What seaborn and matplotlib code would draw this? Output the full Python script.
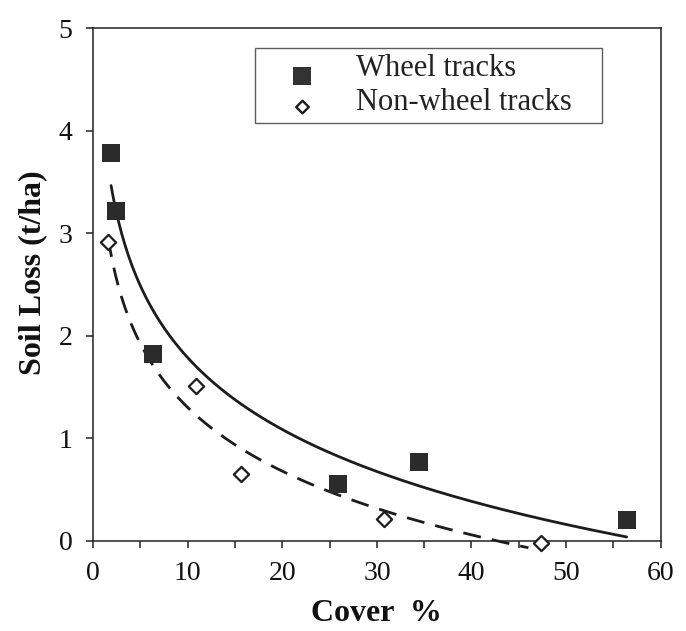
import numpy as np
import pandas as pd
import seaborn as sns
import matplotlib
matplotlib.use("Agg")
import matplotlib.pyplot as plt
from matplotlib.lines import Line2D
from matplotlib.path import Path

# ---- data ----
wheel_cover = [1.9, 2.4, 6.3, 25.9, 34.4, 56.4]
wheel_loss = [3.78, 3.22, 1.82, 0.55, 0.77, 0.20]
nonwheel_cover = [1.6, 10.9, 15.6, 30.8, 47.4]
nonwheel_loss = [2.91, 1.51, 0.65, 0.21, -0.02]
series_names = ["Wheel tracks", "Non-wheel tracks"]
x_ticks = [0, 10, 20, 30, 40, 50, 60]
y_ticks = [0, 1, 2, 3, 4, 5]

sns.set_style("ticks")
plt.rcParams["font.family"] = ["Liberation Serif", "DejaVu Serif"]

fig = plt.figure(figsize=(6.86, 6.31), dpi=100)
ax = fig.add_axes([0.1357, 0.1432, 0.8274, 0.8122])

wheel = pd.DataFrame({"cover": wheel_cover, "loss": wheel_loss})
nonwheel = pd.DataFrame({"cover": nonwheel_cover, "loss": nonwheel_loss})


# logarithmic trend lines fitted to each series (as the original trendlines)
def log_trend(df, clip_low=-0.07):
    b, a = np.polyfit(np.log(df["cover"]), df["loss"], 1)
    xs = np.linspace(df["cover"].min(), df["cover"].max(), 300)
    ys = a + b * np.log(xs)
    keep = ys >= clip_low
    return pd.DataFrame({"cover": xs[keep], "loss": ys[keep]})


tw = log_trend(wheel)
tn = log_trend(nonwheel)

sns.lineplot(data=tw, x="cover", y="loss", ax=ax, color="#1c1c1c", lw=2.0,
             estimator=None, sort=False)
sns.lineplot(data=tn, x="cover", y="loss", ax=ax, color="#1c1c1c", lw=2.0,
             estimator=None, sort=False)
ax.lines[-1].set_dashes([6.5, 4.0])
ax.lines[-1].set_clip_on(False)

sns.scatterplot(data=wheel, x="cover", y="loss", ax=ax, marker="s", s=150,
                color="#2b2b2b", edgecolor="#2b2b2b", linewidth=0, zorder=5)
sns.scatterplot(data=nonwheel, x="cover", y="loss", ax=ax, marker="D", s=60,
                facecolor="white", edgecolor="#1c1c1c", linewidth=1.6,
                zorder=5, clip_on=False)

ax.set_xlim(0, 60)
ax.set_ylim(0, 5)
ax.set_xticks(np.arange(0, 61, 5))
ax.set_xticklabels([str(v) if v in x_ticks else "" for v in np.arange(0, 61, 5)])
ax.set_yticks(y_ticks)
ax.set_yticklabels([str(v) for v in y_ticks])
ax.tick_params(axis="both", direction="out", length=5, width=1.1, color="#222",
               labelsize=20, labelcolor="#111", pad=10)
for s in ax.spines.values():
    s.set_color("#222")
    s.set_linewidth(1.1)

ax.set_xlabel("Cover  %", fontsize=23, fontweight="bold", color="#111", labelpad=9)
ax.set_ylabel("Soil Loss (t/ha)", fontsize=23, fontweight="bold", color="#111",
              labelpad=8)
ax.yaxis.label.set_y(0.522)

# legend markers sit slightly below the text centre in the reference
sq_path = Path([(-0.5, -1.05), (0.5, -1.05), (0.5, -0.05), (-0.5, -0.05),
                (-0.5, -1.05)], closed=True)
di_path = Path([(0, -0.1), (0.5, -0.6), (0, -1.1), (-0.5, -0.6), (0, -0.1)],
               closed=True)
handles = [
    Line2D([], [], ls="none", marker=sq_path, markersize=27, color="#333",
           markeredgewidth=0),
    Line2D([], [], ls="none", marker=di_path, markersize=20, markerfacecolor="white",
           markeredgecolor="#1c1c1c", markeredgewidth=1.7),
]
leg = ax.legend(handles, series_names, loc="upper left",
                bbox_to_anchor=(0.285, 0.80, 0.611, 0.161), mode="expand",
                borderaxespad=0, frameon=True, fancybox=False, edgecolor="#333",
                fontsize=22, handlelength=2.68, handletextpad=0.42,
                labelspacing=0.15, borderpad=0.2)
leg.get_frame().set_linewidth(1.0)
for t in leg.get_texts():
    t.set_color("#222")

fig.savefig("out.png", dpi=100, facecolor="white")
